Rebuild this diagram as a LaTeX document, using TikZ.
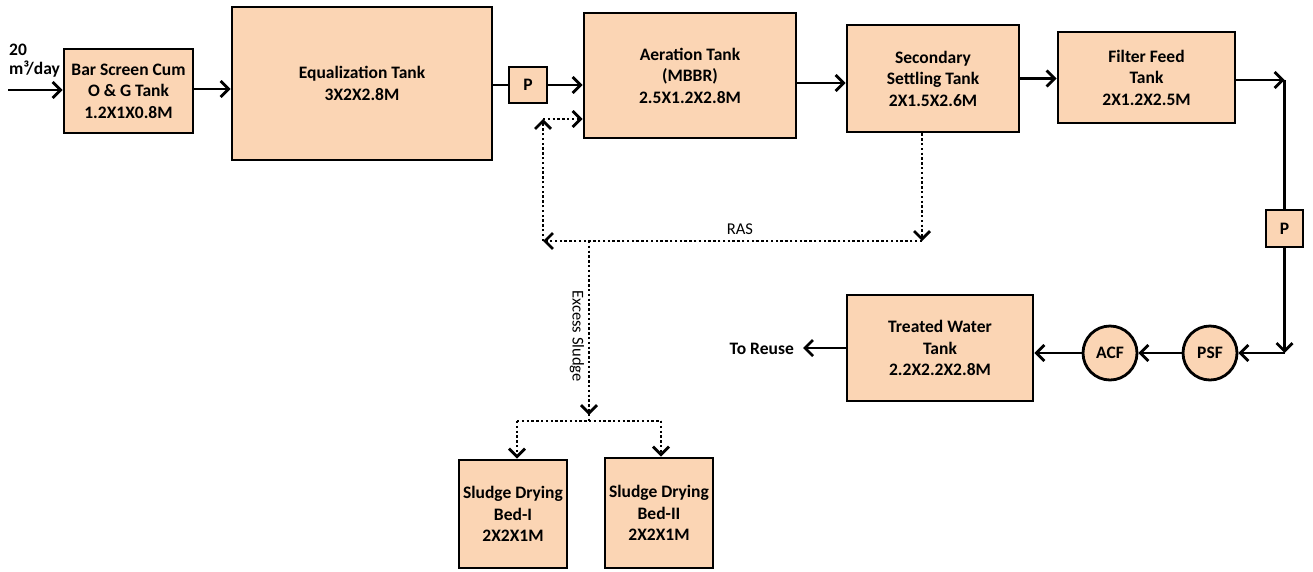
\documentclass[tikz,border=0pt]{standalone}
\usepackage{fontspec}
\setmainfont{Carlito}
\usetikzlibrary{arrows.meta}
\definecolor{peach}{RGB}{251,213,180}
\tikzset{
 tank/.style={draw=black, fill=peach, line width=2.8pt, align=center, font=\bfseries\fontsize{17.5}{21.5}\selectfont, inner sep=0pt},
 circ/.style={circle, draw=black, fill=peach, line width=2.8pt, minimum size=54pt, inner sep=0pt, font=\bfseries\fontsize{17.5}{20}\selectfont},
 flow/.style={line width=2.8pt, -{Straight Barb[length=8pt,width=16pt]}},
 plain/.style={line width=2.8pt},
 dots/.style={line width=2.8pt, dash pattern=on 2.4pt off 2.4pt},
 dflow/.style={dots, -{Straight Barb[length=8pt,width=16pt]}},
 lbl/.style={font=\bfseries\fontsize{17.5}{19}\selectfont, align=left, inner sep=0pt},
 small/.style={font=\fontsize{16.5}{19}\selectfont, inner sep=0pt},
}
\begin{document}
\begin{tikzpicture}[x=1pt,y=-1pt]
\useasboundingbox (0,0) rectangle (1313,571);
% tanks
\node[tank, minimum width=129pt, minimum height=84pt] (bar) at (128.5,91) {Bar Screen Cum\\O \& G Tank\\1.2X1X0.8M};
\node[tank, minimum width=260pt, minimum height=153pt] (eq) at (362,83.5) {Equalization Tank\\3X2X2.8M};
\node[tank, minimum width=38pt, minimum height=36pt] (p1) at (528,85) {P};
\node[tank, minimum width=212pt, minimum height=125pt] (aer) at (690,75.5) {Aeration Tank\\(MBBR)\\2.5X1.2X2.8M};
\node[tank, minimum width=172pt, minimum height=107pt] (sst) at (933,78.5) {Secondary\\Settling Tank\\2X1.5X2.6M};
\node[tank, minimum width=177pt, minimum height=91pt] (fft) at (1146.5,77.5) {Filter Feed\\Tank\\2X1.2X2.5M};
\node[tank, minimum width=37pt, minimum height=37pt] (p2) at (1284.5,228.5) {P};
\node[circ] (psf) at (1210,353) {PSF};
\node[circ] (acf) at (1110,353) {ACF};
\node[tank, minimum width=186pt, minimum height=106pt] (twt) at (940,348) {Treated Water\\Tank\\2.2X2.2X2.8M};
\node[tank, minimum width=108pt, minimum height=108pt] (sdb1) at (513,514) {Sludge Drying\\Bed-I\\2X2X1M};
\node[tank, minimum width=108pt, minimum height=110pt] (sdb2) at (659,513) {Sludge Drying\\Bed-II\\2X2X1M};
% labels
\node[lbl, anchor=north west] (inlbl) at (9,44) {20\\m³/day};
\node[lbl, anchor=east] (reuse) at (794,349) {To Reuse};
\node[small] (ras) at (740,229) {RAS};
\node[small, rotate=-90] (exs) at (577,336) {Excess Sludge};
% main flow
\coordinate (in) at (8,90);
\draw[flow] (in) -- (in -| bar.west);
\draw[flow] ([yshift=2pt]bar.east) -- ([yshift=2pt]bar.east -| eq.west);
\draw[plain] (p1.west -| eq.east) -- (p1.west);
\draw[flow] (p1.east) -- (p1.east -| aer.west);
\draw[flow] ([yshift=-7.5pt]aer.east) -- ([yshift=-7.5pt]aer.east -| sst.west);
\draw[flow] (sst.east) -- (sst.east -| fft.west);
\coordinate (c1) at (1284.5,80);
\coordinate (c2) at (1284.5,353);
\draw[plain] (c1) -- (p2.north);
\draw[flow] (fft.east |- c1) -- (c1);
\draw[flow] (p2.south) -- (c2);
\draw[flow] (c2) -- (psf.east);
\draw[flow] (psf) -- (acf);
\draw[flow] (acf) -- (acf -| twt.east);
\coordinate (out) at (803,348);
\draw[flow] (twt.west) -- (out);
% RAS loop
\coordinate (r1) at (922,241);
\coordinate (r2) at (543,241);
\coordinate (r3) at (543,119);
\draw[dflow] (sst.south -| r1) -- (r1);
\draw[dflow] (r1) -- (r2);
\draw[dflow] (r2) -- (r3);
\draw[dflow] (r3) -- (r3 -| aer.west);
% excess sludge
\coordinate (e1) at (589,241);
\coordinate (e2) at (589,421);
\coordinate (b1) at (517,421);
\coordinate (b2) at (661,421);
\draw[dots] (e1) -- (e2);
\draw[dflow] (e1) -- ([yshift=6pt]e2);
\draw[dots] (b1) -- (b2);
\draw[dflow] (b1) -- (b1 |- sdb1.north);
\draw[dflow] (b2) -- (b2 |- sdb2.north);
\end{tikzpicture}
\end{document}
